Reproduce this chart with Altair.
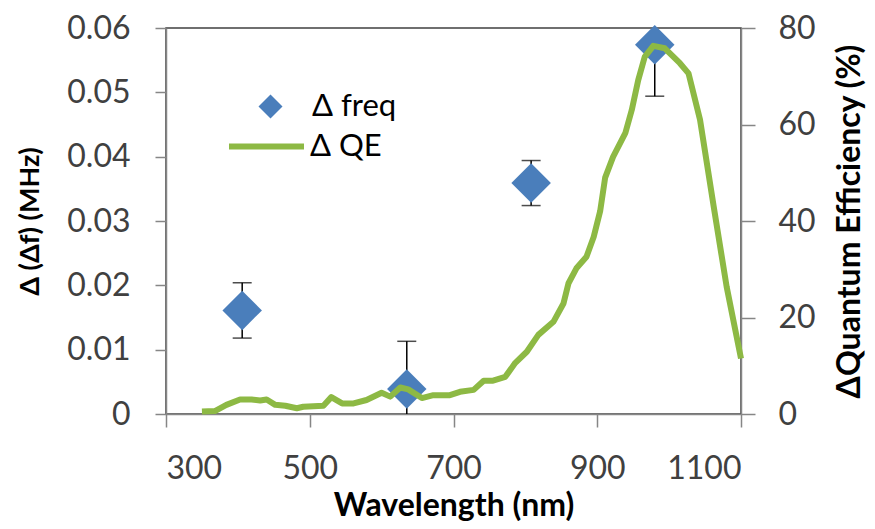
import altair as alt
import pandas as pd

# Δ freq measurements (left axis, MHz)
freq_wl = [406, 635, 808, 980]
freq_val = [0.0161, 0.0039, 0.0359, 0.0574]
freq_err = [0.0043, 0.0074, 0.0035, 0.0080]

# Δ QE curve (right axis, %)
qe_wl = [350, 368, 384, 403, 419, 431, 440, 452, 466, 482, 491, 519, 530, 545,
         561, 579, 600, 612, 626, 637, 656, 672, 695, 709, 728, 742, 755, 772,
         786, 802, 818, 839, 853, 860, 871, 885, 895, 904, 911, 922, 939, 948,
         957, 966, 978, 994, 1015, 1027, 1043, 1062, 1080, 1100]
qe_val = [0.5, 0.6, 1.9, 3.0, 3.0, 2.8, 3.0, 1.9, 1.7, 1.2, 1.5, 1.7, 3.5, 2.2,
          2.2, 2.9, 4.4, 3.6, 5.5, 5.1, 3.3, 3.9, 3.9, 4.6, 5.0, 6.9, 6.9, 7.7,
          10.6, 12.9, 16.4, 19.1, 22.9, 27.1, 30.2, 32.6, 36.7, 42.0, 49.0, 53.3, 58.2, 63.0,
          69.2, 74.0, 76.3, 75.8, 72.7, 70.6, 61.0, 43.0, 26.4, 11.5]

x_ticks = [300, 500, 700, 900, 1100]
left_ticks = [0, 0.01, 0.02, 0.03, 0.04, 0.05, 0.06]
right_ticks = [0, 20, 40, 60, 80]

BLUE = "#4A7EBB"
GREEN = "#8DB944"
AX = "#868686"
LBL = "#404040"
FONT = "Lato"

df_f = pd.DataFrame({
    "wl": freq_wl,
    "val": freq_val,
    "lo": [v - e for v, e in zip(freq_val, freq_err)],
    "hi": [v + e for v, e in zip(freq_val, freq_err)],
    "series": ["Δ freq"] * len(freq_wl),
})
df_q = pd.DataFrame({"wl": qe_wl, "qe": qe_val, "series": ["Δ QE"] * len(qe_wl)})

x_axis = alt.Axis(values=x_ticks, format="d", title="Wavelength (nm)", tickSize=13, labelPadding=26,
                  titleX=287.5, titleY=91, titleBaseline="middle", titleAlign="center",
                  titleFontSize=32)
x_enc = alt.X("wl:Q", scale=alt.Scale(domain=[300, 1100], nice=False, zero=False), axis=x_axis)

yscale = alt.Scale(domain=[0, 0.06], nice=False)
left_axis = alt.Axis(values=left_ticks, format=".2~f", title="Δ (Δf) (MHz)", orient="left",
                     tickSize=11, labelPadding=25, titleAngle=270, titleX=-136, titleY=193,
                     titleAlign="center", titleBaseline="middle", titleFontSize=27)

rule = alt.Chart(df_f).mark_rule(color="black", strokeWidth=1.5, clip=True).encode(
    x=x_enc, y=alt.Y("lo:Q", scale=yscale, axis=left_axis), y2="hi:Q")
cap_lo = alt.Chart(df_f).mark_tick(color="black", thickness=1.5, size=19, orient="horizontal", clip=True).encode(
    x=x_enc, y=alt.Y("lo:Q", scale=yscale, axis=left_axis))
cap_hi = alt.Chart(df_f).mark_tick(color="black", thickness=1.5, size=19, orient="horizontal", clip=True).encode(
    x=x_enc, y=alt.Y("hi:Q", scale=yscale, axis=left_axis))
pts = alt.Chart(df_f).mark_point(shape="diamond", filled=True, size=1560, opacity=1, strokeWidth=0).encode(
    x=x_enc, y=alt.Y("val:Q", scale=yscale, axis=left_axis),
    fill=alt.Fill("series:N", scale=alt.Scale(domain=["Δ freq"], range=[BLUE]),
                  legend=alt.Legend(orient="none", legendX=89, legendY=63, title=None,
                                    symbolType="diamond", symbolSize=576, symbolStrokeWidth=0,
                                    labelFont=FONT, labelFontSize=31, labelColor="black",
                                    labelOffset=26, padding=0)))

left = alt.layer(rule, cap_lo, cap_hi, pts)

right_axis = alt.Axis(values=right_ticks, title="ΔQuantum Efficiency (%)", orient="right",
                      tickSize=14, labelPadding=23, titleAngle=270, titleX=108, titleY=193,
                      titleAlign="center", titleBaseline="middle", titleFontSize=32)
line = alt.Chart(df_q).mark_line(strokeWidth=6, strokeJoin="round", strokeCap="butt").encode(
    x=x_enc,
    y=alt.Y("qe:Q", scale=alt.Scale(domain=[0, 80], nice=False), axis=right_axis),
    stroke=alt.Stroke("series:N", scale=alt.Scale(domain=["Δ QE"], range=[GREEN]),
                      legend=alt.Legend(orient="none", legendX=60, legendY=78, title=None,
                                        symbolType="stroke", symbolSize=5625, symbolStrokeWidth=6,
                                        labelFont=FONT, labelFontSize=31, labelColor="black",
                                        labelOffset=3, padding=0)))

chart = alt.layer(left, line).resolve_scale(y="independent").properties(
    width=575, height=386,
    autosize=alt.AutoSizeParams(type="none"),
    padding={"left": 158, "top": 20, "right": 126, "bottom": 107},
).configure_view(stroke="#404040", strokeWidth=1.5).configure_axis(
    grid=False, domainColor=AX, tickColor=AX, domainWidth=1.5, tickWidth=1.5,
    labelFont=FONT, labelFontSize=32, labelColor=LBL,
    titleFont=FONT, titleFontWeight="bold", titleColor="black",
)

chart.save("out.html", embed_options={"renderer": "svg", "actions": False})
